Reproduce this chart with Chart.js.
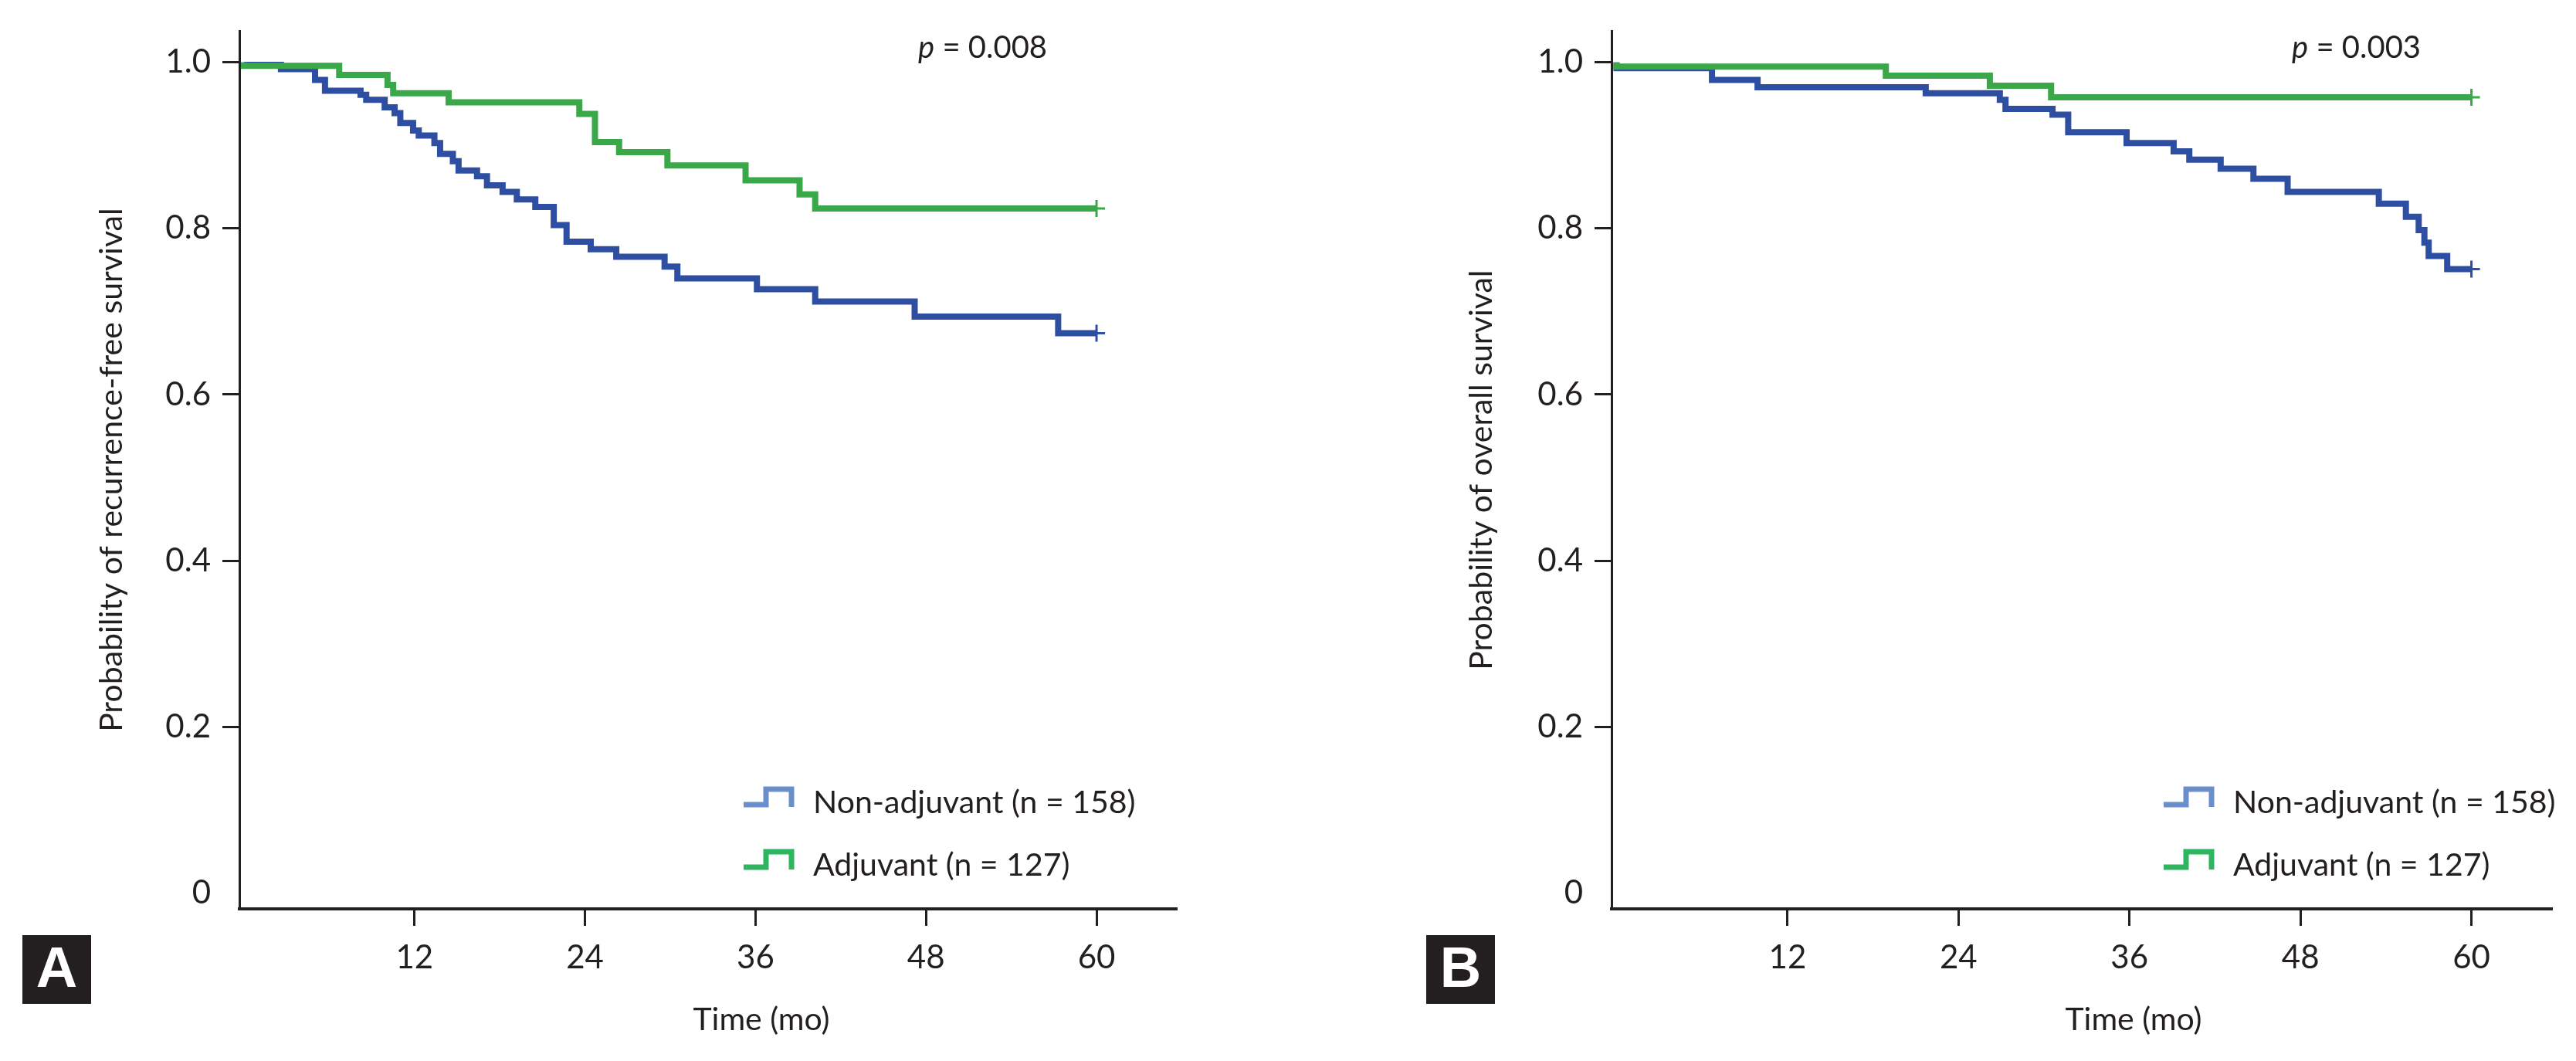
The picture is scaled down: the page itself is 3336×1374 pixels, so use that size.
<!DOCTYPE html>
<html><head><meta charset="utf-8">
<script src="https://cdn.jsdelivr.net/npm/chart.js@4.4.0/dist/chart.umd.min.js"></script>
<style>
html,body{margin:0;padding:0;background:#fff;}
#wrap{position:relative;width:3336px;height:1374px;overflow:hidden;background:#fff;}
.pane{position:absolute;top:0;width:1668px;height:1374px;}
</style></head>
<body><div id="wrap">
<div class="pane" style="left:0"><canvas id="cA" width="1668" height="1374"></canvas></div>
<div class="pane" style="left:1668px"><canvas id="cB" width="1668" height="1374"></canvas></div>
</div>
<script>
// ---- data ----
const xTicks = [12, 24, 36, 48, 60];
const yTicks = [0, 0.2, 0.4, 0.6, 0.8, 1.0];
const seriesNames = ['Non-adjuvant (n = 158)', 'Adjuvant (n = 127)'];
const xTitle = 'Time (mo)';
const yTitleA = 'Probability of recurrence-free survival';
const yTitleB = 'Probability of overall survival';
const pValueA = '0.008';
const pValueB = '0.003';

// Panel A: recurrence-free survival
const rfsNonAdjMonths = [0, 2.6, 5.0, 5.7, 8.2, 8.6, 9.9, 10.6, 11.0, 11.9, 12.3, 13.4, 13.8, 14.7, 15.1, 16.4, 17.1, 18.2, 19.2, 20.5, 21.8, 22.7, 24.4, 26.2, 29.6, 30.5, 36.1, 40.2, 47.2, 57.3, 59.9, 60];
const rfsNonAdjSurv   = [1.0, 0.997, 0.992, 0.979, 0.966, 0.961, 0.955, 0.946, 0.939, 0.927, 0.918, 0.912, 0.903, 0.890, 0.881, 0.870, 0.863, 0.852, 0.844, 0.835, 0.826, 0.804, 0.784, 0.775, 0.766, 0.754, 0.740, 0.727, 0.712, 0.694, 0.674, 0.674];
const rfsAdjMonths = [0, 6.7, 10.1, 10.5, 14.4, 23.6, 24.7, 26.4, 29.8, 35.3, 39.1, 40.2, 41.3, 60];
const rfsAdjSurv   = [1.0, 0.996, 0.985, 0.973, 0.963, 0.952, 0.938, 0.904, 0.892, 0.876, 0.858, 0.841, 0.824, 0.824];

// Panel B: overall survival
const osNonAdjMonths = [0, 6.7, 9.9, 21.7, 26.9, 27.3, 30.6, 31.7, 35.8, 39.1, 40.2, 42.4, 44.7, 47.1, 53.5, 55.4, 56.3, 56.7, 57.0, 58.3, 59.9, 60];
const osNonAdjSurv   = [1.0, 0.993, 0.979, 0.970, 0.963, 0.955, 0.944, 0.937, 0.916, 0.903, 0.893, 0.883, 0.872, 0.860, 0.844, 0.830, 0.814, 0.798, 0.783, 0.767, 0.751, 0.751];
const osAdjMonths = [0, 18.9, 26.2, 30.5, 35.4, 60];
const osAdjSurv   = [1.0, 0.995, 0.984, 0.972, 0.958, 0.958];

// ---- styling ----
const INK = '#231f20';
const BLUE = '#2e4ea2';
const GREEN = '#3aa848';
const LEG_BLUE = '#6b8fcc';
const LEG_GREEN = '#2fb45f';
const FONT = 'Lato, "Open Sans", sans-serif';

function pts(xs, ys) { return xs.map((x, i) => ({ x: x, y: ys[i] })); }

function ds(label, xs, ys, color) {
  const n = xs.length;
  return {
    label: label,
    data: pts(xs, ys),
    stepped: 'after',
    borderColor: color,
    backgroundColor: color,
    borderWidth: 8,
    fill: false,
    pointStyle: 'cross',
    pointRadius: c => (c.dataIndex === n - 1 ? 11 : 0),
    pointBorderWidth: 3,
    pointBorderColor: color,
    pointHoverRadius: 0
  };
}

function annotPlugin(cfg) {
  return {
    id: 'annot',
    afterDraw(chart) {
      const ctx = chart.ctx;
      const L = chart.chartArea.left;
      ctx.save();
      ctx.fillStyle = INK;
      ctx.textBaseline = 'alphabetic';
      // p value
      ctx.textAlign = 'left';
      ctx.font = 'italic 40px ' + FONT;
      const px = L + cfg.pOff;
      ctx.fillText('p', px, 75);
      const pw = ctx.measureText('p').width;
      ctx.font = '40px ' + FONT;
      ctx.fillText(' = ' + cfg.pValue, px + pw, 75);
      // legend
      const rows = [{ name: seriesNames[0], col: cfg.legCols[0], base: 1053 },
                    { name: seriesNames[1], col: cfg.legCols[1], base: 1134 }];
      const x0 = L + cfg.legOff;
      rows.forEach(r => {
        ctx.strokeStyle = r.col;
        ctx.lineWidth = 7;
        ctx.lineJoin = 'miter';
        ctx.lineCap = 'butt';
        ctx.beginPath();
        ctx.moveTo(x0, r.base - 11);
        ctx.lineTo(x0 + 29, r.base - 11);
        ctx.lineTo(x0 + 29, r.base - 31);
        ctx.lineTo(x0 + 62, r.base - 31);
        ctx.lineTo(x0 + 62, r.base - 8);
        ctx.stroke();
        ctx.fillStyle = INK;
        ctx.font = '41px ' + FONT;
        ctx.textAlign = 'left';
        ctx.fillText(r.name, x0 + 90, r.base);
      });
      // x title
      ctx.font = '41px ' + FONT;
      ctx.textAlign = 'center';
      ctx.fillText(xTitle, L + 676, 1334);
      // panel letter
      ctx.fillStyle = INK;
      ctx.fillRect(cfg.boxX, 1211, 89, 89);
      ctx.fillStyle = '#ffffff';
      ctx.font = 'bold 74px "Liberation Sans", Arial, sans-serif';
      ctx.textAlign = 'center';
      ctx.textBaseline = 'middle';
      ctx.fillText(cfg.letter, cfg.boxX + 44.5, 1258);
      ctx.restore();
    }
  };
}

function makeChart(id, cfg) {
  return new Chart(document.getElementById(id), {
    type: 'line',
    data: {
      datasets: [
        ds(seriesNames[1], cfg.adjX, cfg.adjY, GREEN),
        ds(seriesNames[0], cfg.nonX, cfg.nonY, BLUE)
      ]
    },
    options: {
      responsive: false,
      animation: false,
      devicePixelRatio: 1,
      layout: { padding: { left: 0, top: 30, right: cfg.padRight, bottom: 0 } },
      plugins: { legend: { display: false }, tooltip: { enabled: false }, title: { display: false } },
      scales: {
        x: {
          type: 'linear',
          min: cfg.xMin, max: cfg.xMax,
          afterBuildTicks: s => { s.ticks = xTicks.map(v => ({ value: v })); },
          afterFit: s => { s.height = 197; },
          border: { display: true, color: INK, width: 4 },
          grid: { display: true, drawOnChartArea: false, drawTicks: true, tickLength: 22, tickWidth: 3, tickColor: INK },
          ticks: { color: INK, font: { family: FONT, size: 42 }, padding: 16, maxRotation: 0, callback: v => String(v) }
        },
        y: {
          type: 'linear',
          min: -0.0194, max: 1.0378,
          afterBuildTicks: s => { s.ticks = yTicks.map(v => ({ value: v })); },
          afterFit: s => { s.width = cfg.yWidth; },
          border: { display: true, color: INK, width: 3 },
          grid: { display: true, drawOnChartArea: false, drawTicks: true, tickLength: 22, tickWidth: 3,
                  tickColor: c => (c.tick && c.tick.value === 0 ? 'rgba(0,0,0,0)' : INK) },
          ticks: { color: INK, font: { family: FONT, size: 42 }, padding: 15,
                   callback: v => (v === 0 ? '0' : v.toFixed(1)) },
          title: { display: true, text: cfg.yTitle, color: INK, font: { family: FONT, size: 41 },
                   padding: { top: cfg.yTitlePad, bottom: 0 } }
        }
      }
    },
    plugins: [annotPlugin(cfg)]
  });
}

makeChart('cA', {
  adjX: rfsAdjMonths, adjY: rfsAdjSurv, nonX: rfsNonAdjMonths, nonY: rfsNonAdjSurv,
  xMin: -0.326, xMax: 65.65, padRight: 144, yWidth: 310, yTitle: yTitleA, yTitlePad: 120,
  pOff: 879, pValue: pValueA, legOff: 653, legCols: [LEG_BLUE, LEG_GREEN], boxX: 29, letter: 'A'
});
makeChart('cB', {
  adjX: osAdjMonths, adjY: osAdjSurv, nonX: osNonAdjMonths, nonY: osNonAdjSurv,
  xMin: -0.35, xMax: 65.66, padRight: 31, yWidth: 419, yTitle: yTitleB, yTitlePad: 226,
  pOff: 881, pValue: pValueB, legOff: 715, legCols: [LEG_BLUE, LEG_GREEN], boxX: 179, letter: 'B'
});
</script>
</body></html>
